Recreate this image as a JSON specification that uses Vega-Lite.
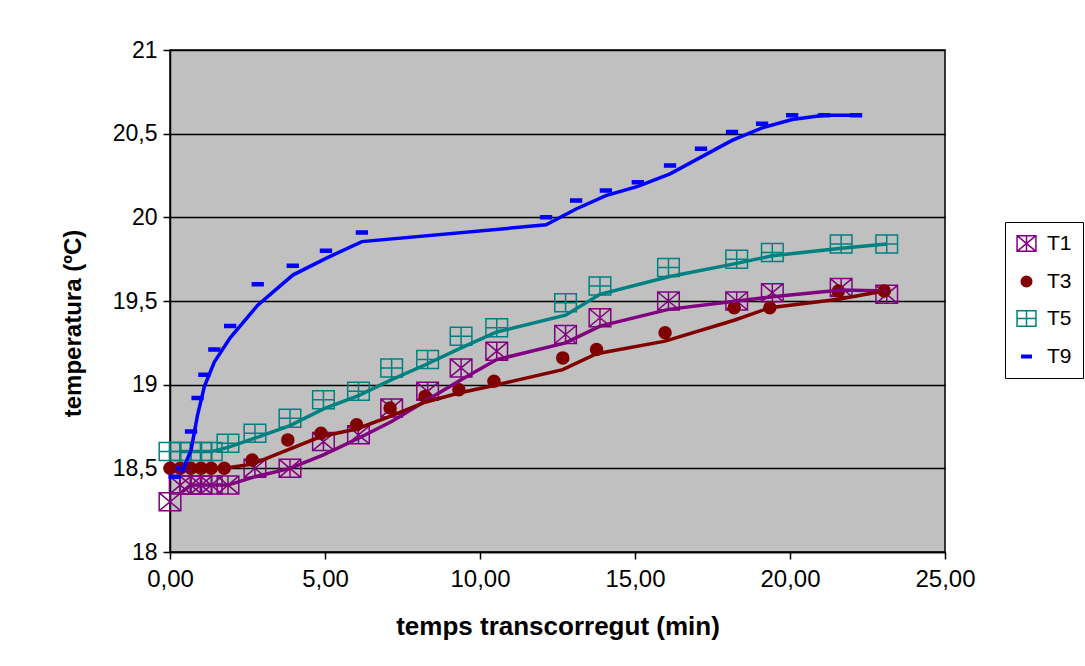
{
  "$schema": "https://vega.github.io/schema/vega-lite/v6.json",
  "width": 775,
  "height": 502,
  "autosize": {"type": "none"},
  "padding": {"left": 170, "top": 50, "right": 140, "bottom": 114},
  "background": "white",
  "config": {
    "font": "Liberation Sans",
    "view": {"fill": "#C0C0C0", "stroke": "black", "strokeWidth": 1.5},
    "axis": {
      "labelFont": "Liberation Sans",
      "labelColor": "black",
      "labelFlush": false,
      "titleFont": "Liberation Sans",
      "titleFontWeight": "bold",
      "titleColor": "black",
      "domainColor": "black",
      "domainWidth": 1.5,
      "tickColor": "black",
      "tickWidth": 1.5,
      "tickSize": 7
    }
  },
  "data": {
    "values": [
      {"series": "T1", "time": 0, "temp": 18.3, "trend": null},
      {"series": "T1", "time": 0.33, "temp": 18.4, "trend": 18.35},
      {"series": "T1", "time": 0.67, "temp": 18.4, "trend": 18.4},
      {"series": "T1", "time": 1.0, "temp": 18.4, "trend": 18.4},
      {"series": "T1", "time": 1.33, "temp": 18.4, "trend": 18.4},
      {"series": "T1", "time": 1.87, "temp": 18.4, "trend": 18.4},
      {"series": "T1", "time": 2.74, "temp": 18.5, "trend": 18.45},
      {"series": "T1", "time": 3.87, "temp": 18.5, "trend": 18.5},
      {"series": "T1", "time": 4.95, "temp": 18.66, "trend": 18.58},
      {"series": "T1", "time": 6.08, "temp": 18.7, "trend": 18.68},
      {"series": "T1", "time": 7.15, "temp": 18.86, "trend": 18.78},
      {"series": "T1", "time": 8.31, "temp": 18.96, "trend": 18.91},
      {"series": "T1", "time": 9.39, "temp": 19.1, "trend": 19.03},
      {"series": "T1", "time": 10.54, "temp": 19.2, "trend": 19.15},
      {"series": "T1", "time": 12.76, "temp": 19.3, "trend": 19.25},
      {"series": "T1", "time": 13.87, "temp": 19.4, "trend": 19.35},
      {"series": "T1", "time": 16.08, "temp": 19.5, "trend": 19.45},
      {"series": "T1", "time": 18.28, "temp": 19.5, "trend": 19.5},
      {"series": "T1", "time": 19.43, "temp": 19.55, "trend": 19.525},
      {"series": "T1", "time": 21.65, "temp": 19.58, "trend": 19.565},
      {"series": "T1", "time": 23.12, "temp": 19.54, "trend": 19.56},
      {"series": "T3", "time": 0, "temp": 18.5, "trend": null},
      {"series": "T3", "time": 0.33, "temp": 18.5, "trend": 18.5},
      {"series": "T3", "time": 0.67, "temp": 18.5, "trend": 18.5},
      {"series": "T3", "time": 1.0, "temp": 18.5, "trend": 18.5},
      {"series": "T3", "time": 1.33, "temp": 18.5, "trend": 18.5},
      {"series": "T3", "time": 1.75, "temp": 18.5, "trend": 18.5},
      {"series": "T3", "time": 2.65, "temp": 18.55, "trend": 18.525},
      {"series": "T3", "time": 3.8, "temp": 18.67, "trend": 18.61},
      {"series": "T3", "time": 4.87, "temp": 18.71, "trend": 18.69},
      {"series": "T3", "time": 6.02, "temp": 18.76, "trend": 18.735},
      {"series": "T3", "time": 7.1, "temp": 18.86, "trend": 18.81},
      {"series": "T3", "time": 8.23, "temp": 18.93, "trend": 18.895},
      {"series": "T3", "time": 9.32, "temp": 18.97, "trend": 18.95},
      {"series": "T3", "time": 10.45, "temp": 19.02, "trend": 18.995},
      {"series": "T3", "time": 12.67, "temp": 19.16, "trend": 19.09},
      {"series": "T3", "time": 13.76, "temp": 19.21, "trend": 19.185},
      {"series": "T3", "time": 15.97, "temp": 19.31, "trend": 19.26},
      {"series": "T3", "time": 18.2, "temp": 19.46, "trend": 19.385},
      {"series": "T3", "time": 19.35, "temp": 19.46, "trend": 19.46},
      {"series": "T3", "time": 21.56, "temp": 19.56, "trend": 19.51},
      {"series": "T3", "time": 23.04, "temp": 19.56, "trend": 19.56},
      {"series": "T5", "time": 0, "temp": 18.6, "trend": null},
      {"series": "T5", "time": 0.33, "temp": 18.6, "trend": 18.6},
      {"series": "T5", "time": 0.67, "temp": 18.6, "trend": 18.6},
      {"series": "T5", "time": 1.0, "temp": 18.6, "trend": 18.6},
      {"series": "T5", "time": 1.33, "temp": 18.6, "trend": 18.6},
      {"series": "T5", "time": 1.87, "temp": 18.65, "trend": 18.625},
      {"series": "T5", "time": 2.74, "temp": 18.71, "trend": 18.68},
      {"series": "T5", "time": 3.87, "temp": 18.8, "trend": 18.755},
      {"series": "T5", "time": 4.95, "temp": 18.91, "trend": 18.855},
      {"series": "T5", "time": 6.08, "temp": 18.96, "trend": 18.935},
      {"series": "T5", "time": 7.15, "temp": 19.1, "trend": 19.03},
      {"series": "T5", "time": 8.31, "temp": 19.15, "trend": 19.125},
      {"series": "T5", "time": 9.39, "temp": 19.29, "trend": 19.22},
      {"series": "T5", "time": 10.54, "temp": 19.34, "trend": 19.315},
      {"series": "T5", "time": 12.76, "temp": 19.49, "trend": 19.415},
      {"series": "T5", "time": 13.87, "temp": 19.59, "trend": 19.54},
      {"series": "T5", "time": 16.08, "temp": 19.7, "trend": 19.645},
      {"series": "T5", "time": 18.28, "temp": 19.75, "trend": 19.725},
      {"series": "T5", "time": 19.43, "temp": 19.79, "trend": 19.77},
      {"series": "T5", "time": 21.65, "temp": 19.84, "trend": 19.815},
      {"series": "T5", "time": 23.12, "temp": 19.84, "trend": 19.84},
      {"series": "T9", "time": 0.15, "temp": 18.45, "trend": null},
      {"series": "T9", "time": 0.38, "temp": 18.5, "trend": 18.475},
      {"series": "T9", "time": 0.68, "temp": 18.72, "trend": 18.61},
      {"series": "T9", "time": 0.89, "temp": 18.92, "trend": 18.82},
      {"series": "T9", "time": 1.11, "temp": 19.06, "trend": 18.99},
      {"series": "T9", "time": 1.43, "temp": 19.21, "trend": 19.135},
      {"series": "T9", "time": 1.94, "temp": 19.35, "trend": 19.28},
      {"series": "T9", "time": 2.83, "temp": 19.6, "trend": 19.475},
      {"series": "T9", "time": 3.96, "temp": 19.71, "trend": 19.655},
      {"series": "T9", "time": 5.03, "temp": 19.8, "trend": 19.755},
      {"series": "T9", "time": 6.19, "temp": 19.91, "trend": 19.855},
      {"series": "T9", "time": 12.13, "temp": 20.0, "trend": 19.955},
      {"series": "T9", "time": 13.1, "temp": 20.1, "trend": 20.05},
      {"series": "T9", "time": 14.06, "temp": 20.16, "trend": 20.13},
      {"series": "T9", "time": 15.09, "temp": 20.21, "trend": 20.185},
      {"series": "T9", "time": 16.13, "temp": 20.31, "trend": 20.26},
      {"series": "T9", "time": 17.13, "temp": 20.41, "trend": 20.36},
      {"series": "T9", "time": 18.13, "temp": 20.51, "trend": 20.46},
      {"series": "T9", "time": 19.1, "temp": 20.56, "trend": 20.535},
      {"series": "T9", "time": 20.07, "temp": 20.61, "trend": 20.585},
      {"series": "T9", "time": 21.1, "temp": 20.61, "trend": 20.61},
      {"series": "T9", "time": 22.13, "temp": 20.61, "trend": 20.61}
    ]
  },
  "layer": [
    {
      "mark": {"type": "point", "size": 144, "strokeWidth": 1.5, "opacity": 1, "filled": false},
      "encoding": {
        "x": {
          "field": "time", "type": "quantitative",
          "scale": {"domain": [0, 25], "nice": false, "zero": false},
          "axis": {
            "values": [0, 5, 10, 15, 20, 25],
            "grid": false,
            "labelFontSize": 24,
            "labelPadding": 8,
            "labelExpr": "replace(format(datum.value, '.2f'), '.', ',')",
            "title": "temps transcorregut (min)",
            "titleFontSize": 26,
            "titlePadding": 22
          }
        },
        "y": {
          "field": "temp", "type": "quantitative",
          "scale": {"domain": [18, 21], "nice": false, "zero": false},
          "axis": {
            "values": [18, 18.5, 19, 19.5, 20, 20.5, 21],
            "grid": true,
            "gridColor": "black",
            "gridWidth": 1.5,
            "gridOpacity": 1,
            "labelFontSize": 23,
            "labelPadding": 6,
            "labelExpr": "replace(format(datum.value, '~g'), '.', ',')",
            "title": "temperatura (ºC)",
            "titleFontSize": 24,
            "titleAngle": 270,
            "titleBaseline": "bottom",
            "titleX": -85,
            "titleY": 273
          }
        },
        "shape": {
          "field": "series", "type": "nominal",
          "scale": {
            "domain": ["T1", "T3", "T5", "T9"],
            "range": [
              "M-1.8,-1.5H1.8V1.5H-1.8Z M-1.8,-1.5L1.8,1.5 M-1.8,1.5L1.8,-1.5 M0,-1.5V1.5",
              "circle",
              "M-1.8,-1.5H1.8V1.5H-1.8Z M-1.8,0H1.8 M0,-1.5V1.5",
              "M-0.9,-0.25H0.9V0.25H-0.9Z"
            ]
          },
          "legend": {
            "title": null, "orient": "none", "legendX": 835, "legendY": 172,
            "padding": 11, "strokeColor": "black", "fillColor": "white",
            "labelFontSize": 21, "labelFont": "Liberation Sans", "labelColor": "black",
            "symbolSize": 110, "symbolStrokeWidth": 1.5, "rowPadding": 15, "labelOffset": 10
          }
        },
        "stroke": {
          "field": "series", "type": "nominal",
          "scale": {"domain": ["T1", "T3", "T5", "T9"], "range": ["#800080", "#800000", "#008080", "#0000FF"]},
          "legend": {
            "title": null, "orient": "none", "legendX": 835, "legendY": 172,
            "padding": 11, "strokeColor": "black", "fillColor": "white",
            "labelFontSize": 21, "labelFont": "Liberation Sans", "labelColor": "black",
            "symbolSize": 110, "symbolStrokeWidth": 1.5, "rowPadding": 15, "labelOffset": 10
          }
        },
        "fill": {
          "field": "series", "type": "nominal",
          "scale": {"domain": ["T1", "T3", "T5", "T9"], "range": ["transparent", "#800000", "transparent", "#0000FF"]},
          "legend": {
            "title": null, "orient": "none", "legendX": 835, "legendY": 172,
            "padding": 11, "strokeColor": "black", "fillColor": "white",
            "labelFontSize": 21, "labelFont": "Liberation Sans", "labelColor": "black",
            "symbolSize": 110, "symbolStrokeWidth": 1.5, "rowPadding": 15, "labelOffset": 10
          }
        }
      }
    },
    {
      "mark": {"type": "line", "strokeWidth": 3.5},
      "encoding": {
        "x": {"field": "time", "type": "quantitative"},
        "y": {"field": "trend", "type": "quantitative"},
        "color": {
          "field": "series", "type": "nominal",
          "scale": {"domain": ["T1", "T3", "T5", "T9"], "range": ["#800080", "#800000", "#008080", "#0000FF"]},
          "legend": null
        }
      }
    }
  ]
}
